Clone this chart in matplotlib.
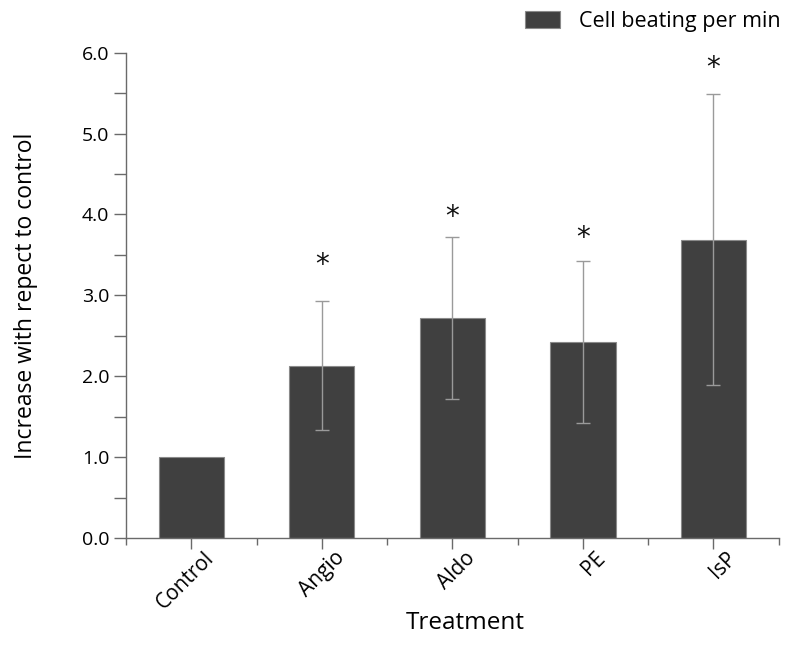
import matplotlib
matplotlib.use("Agg")
import matplotlib.pyplot as plt
import matplotlib.transforms as mtransforms
from matplotlib.ticker import MultipleLocator, FixedLocator
from matplotlib.patches import Patch

# Data
treatments = ["Control", "Angio", "Aldo", "PE", "IsP"]
beating = [1.0, 2.13, 2.72, 2.42, 3.69]
beating_err = [0.0, 0.80, 1.00, 1.00, 1.80]
significant = [False, True, True, True, True]
star_y = [0.0, 3.38, 3.97, 3.71, 5.81]

plt.rcParams['font.family'] = ['Open Sans', 'DejaVu Sans']

fig = plt.figure(figsize=(7.85, 6.59), dpi=100)
ax = fig.add_axes([0.1605, 0.1836, 0.8315, 0.7364])

x = list(range(len(treatments)))
bar_color = "#404040"
ax.bar(x, beating, width=0.5, color=bar_color, edgecolor="#8a8a8a",
       linewidth=0.8, zorder=2)

errs = [(i, v, e) for i, v, e in zip(x, beating, beating_err) if e > 0]
ax.errorbar([t[0] for t in errs], [t[1] for t in errs],
            yerr=[t[2] for t in errs], fmt="none", ecolor="#9a9a9a",
            elinewidth=1.0, capsize=5, capthick=1.0, zorder=3)

for i, sig, sy in zip(x, significant, star_y):
    if sig:
        ax.text(i, sy, "*", ha="center", va="center", fontsize=20,
                family=["DejaVu Sans"], color="#111111")

ax.set_xlim(-0.5, len(treatments) - 0.5)
ax.set_ylim(0, 6.0)

ax.yaxis.set_major_locator(MultipleLocator(1.0))
ax.yaxis.set_minor_locator(MultipleLocator(0.5))
ax.set_yticklabels([f"{v:.1f}" for v in ax.get_yticks()])
ax.set_xticks(x)
ax.xaxis.set_minor_locator(FixedLocator([i - 0.5 for i in range(len(treatments) + 1)]))

spine_color = "#6a6a6a"
for s in ["top", "right"]:
    ax.spines[s].set_visible(False)
for s in ["left", "bottom"]:
    ax.spines[s].set_color(spine_color)
    ax.spines[s].set_linewidth(1.0)

ax.tick_params(axis="y", which="major", length=9, width=1.0, color=spine_color,
               labelsize=14, pad=3)
ax.tick_params(axis="y", which="minor", length=9, width=1.0, color=spine_color)
ax.tick_params(axis="x", which="major", length=8, width=1.0, color=spine_color,
               labelsize=15, pad=3)
ax.tick_params(axis="x", which="minor", length=5, width=1.0, color=spine_color)

ax.set_xticklabels(treatments, rotation=45, ha="right", rotation_mode="anchor")
shift = mtransforms.ScaledTranslation(12 / 100, 6 / 100, fig.dpi_scale_trans)
for tick in ax.xaxis.get_major_ticks():
    tick.label1.set_transform(tick.label1.get_transform() + shift)

ax.set_ylabel("Increase with repect to control", fontsize=16.5)
ax.yaxis.set_label_coords(-0.135, 0.5)
ax.set_xlabel("Treatment", fontsize=17.5)
ax.xaxis.set_label_coords(0.52, -0.15)

handle = Patch(facecolor=bar_color, edgecolor="#8a8a8a", linewidth=0.8)
fig.legend([handle], ["Cell beating per min"], loc="upper right",
           bbox_to_anchor=(1.008, 1.0), frameon=False, fontsize=15.5,
           handlelength=1.6, handleheight=0.8, handletextpad=0.9,
           borderaxespad=0.1)

fig.savefig("out.png", dpi=100)
